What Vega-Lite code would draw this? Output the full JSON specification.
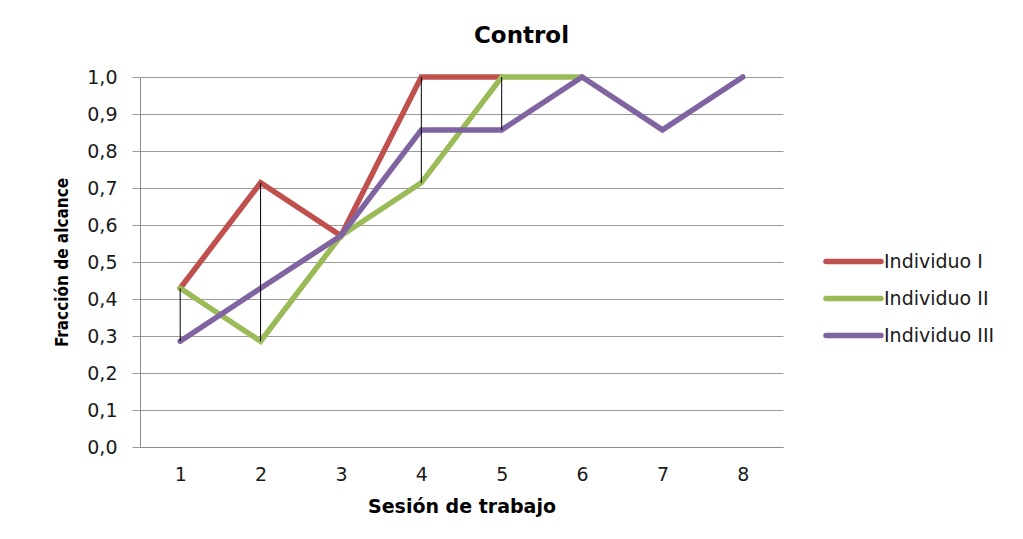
{
  "$schema": "https://vega.github.io/schema/vega-lite/v6.json",
  "autosize": "none",
  "width": 643,
  "height": 370,
  "padding": {"left": 140, "top": 77, "right": 240, "bottom": 92},
  "background": "white",
  "config": {
    "font": "DejaVu Sans",
    "view": {"stroke": null},
    "axisY": {
      "title": "Fracción de alcance",
      "titleFont": "DejaVu Sans Condensed, Liberation Sans Narrow, Liberation Sans",
      "titleFontSize": 17,
      "titleFontWeight": "bold",
      "titleColor": "#000000",
      "titlePadding": 15,
      "labelOverlap": false,
      "labelFont": "DejaVu Sans",
      "labelFontSize": 19,
      "labelColor": "#1a1a1a",
      "labelPadding": 15,
      "tickSize": 8,
      "tickColor": "#9a9a9a",
      "domainColor": "#8c8c8c",
      "gridColor": "#9a9a9a",
      "gridOpacity": 1
    }
  },
  "title": {
    "text": "Control",
    "font": "DejaVu Sans",
    "fontSize": 23,
    "fontWeight": "bold",
    "color": "#000000",
    "anchor": "middle",
    "dx": 60,
    "offset": 18
  },
  "data": {
    "values": [
      {"sesion": "1", "individuo": "Individuo I", "valor": 0.429},
      {"sesion": "2", "individuo": "Individuo I", "valor": 0.714},
      {"sesion": "3", "individuo": "Individuo I", "valor": 0.571},
      {"sesion": "4", "individuo": "Individuo I", "valor": 1.0},
      {"sesion": "5", "individuo": "Individuo I", "valor": 1.0},
      {"sesion": "1", "individuo": "Individuo II", "valor": 0.429},
      {"sesion": "2", "individuo": "Individuo II", "valor": 0.286},
      {"sesion": "3", "individuo": "Individuo II", "valor": 0.571},
      {"sesion": "4", "individuo": "Individuo II", "valor": 0.714},
      {"sesion": "5", "individuo": "Individuo II", "valor": 1.0},
      {"sesion": "6", "individuo": "Individuo II", "valor": 1.0},
      {"sesion": "1", "individuo": "Individuo III", "valor": 0.286},
      {"sesion": "2", "individuo": "Individuo III", "valor": 0.429},
      {"sesion": "3", "individuo": "Individuo III", "valor": 0.571},
      {"sesion": "4", "individuo": "Individuo III", "valor": 0.857},
      {"sesion": "5", "individuo": "Individuo III", "valor": 0.857},
      {"sesion": "6", "individuo": "Individuo III", "valor": 1.0},
      {"sesion": "7", "individuo": "Individuo III", "valor": 0.857},
      {"sesion": "8", "individuo": "Individuo III", "valor": 1.0}
    ]
  },
  "encoding": {
    "x": {
      "field": "sesion",
      "type": "ordinal",
      "scale": {"type": "point", "padding": 0.5, "domain": ["1","2","3","4","5","6","7","8"]},
      "axis": {
        "title": "Sesión de trabajo",
        "titleFont": "DejaVu Sans",
        "titleFontSize": 19,
        "titleFontWeight": "bold",
        "titleColor": "#000000",
        "titlePadding": 13,
        "labelAngle": 0,
        "labelFont": "DejaVu Sans",
        "labelFontSize": 19,
        "labelColor": "#1a1a1a",
        "labelPadding": 18,
        "ticks": false,
        "domainColor": "#8c8c8c",
        "grid": false
      }
    }
  },
  "layer": [
    {
      "mark": {"type": "line", "strokeWidth": 5.5, "strokeCap": "round", "strokeJoin": "miter"},
      "encoding": {
        "y": {
          "field": "valor",
          "type": "quantitative",
          "scale": {"domain": [0, 1], "nice": false},
          "axis": {
            "title": "Fracción de alcance",
            "values": [0, 0.1, 0.2, 0.3, 0.4, 0.5, 0.6, 0.7, 0.8, 0.9, 1.0],
            "labelExpr": "replace(format(datum.value, '.1f'), '.', ',')"
          }
        },
        "color": {
          "field": "individuo",
          "type": "nominal",
          "scale": {
            "domain": ["Individuo I", "Individuo II", "Individuo III"],
            "range": ["#C0504D", "#9BBB59", "#8064A2"]
          },
          "legend": {
            "title": null,
            "orient": "none",
            "legendX": 683,
            "legendY": 166,
            "padding": 0,
            "symbolType": "stroke",
            "symbolSize": 3025,
            "symbolStrokeWidth": 5.5,
            "clipHeight": 37,
            "rowPadding": 0,
            "labelFont": "DejaVu Sans",
            "labelFontSize": 19,
            "labelColor": "#1a1a1a",
            "labelOffset": 0,
            "encode": {"symbols": {"update": {"strokeCap": {"value": "round"}}}}
          }
        },
        "order": {"field": "individuo"}
      }
    },
    {
      "transform": [
        {"aggregate": [{"op": "min", "field": "valor", "as": "bajo"}, {"op": "max", "field": "valor", "as": "alto"}], "groupby": ["sesion"]}
      ],
      "mark": {"type": "rule", "color": "#000000", "strokeWidth": 1},
      "encoding": {
        "y": {
          "field": "bajo",
          "type": "quantitative",
          "axis": {
            "title": "Fracción de alcance",
            "values": [0, 0.1, 0.2, 0.3, 0.4, 0.5, 0.6, 0.7, 0.8, 0.9, 1.0],
            "labelExpr": "replace(format(datum.value, '.1f'), '.', ',')"
          }
        },
        "y2": {"field": "alto"}
      }
    }
  ]
}
